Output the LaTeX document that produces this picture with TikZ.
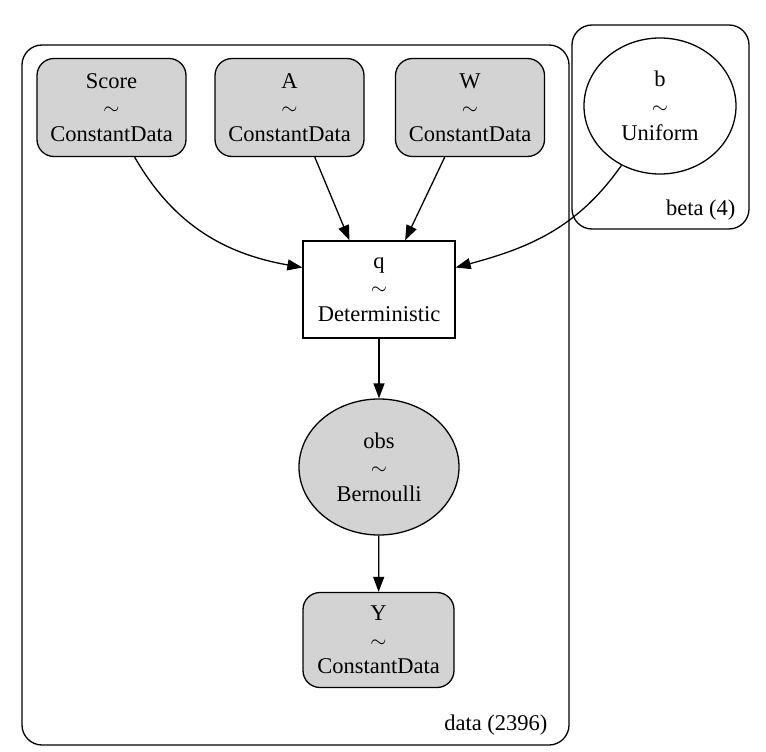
\documentclass[tikz,border=0pt]{standalone}
\usepackage{fontspec}
\setmainfont{Liberation Serif}
\usetikzlibrary{arrows.meta,shapes.geometric}
\definecolor{nodegray}{HTML}{D3D3D3}
\begin{document}
\begin{tikzpicture}[x=1pt,y=-1pt,line width=1.3pt,
        every node/.style={font=\rmfamily\fontsize{22.5}{26.7}\selectfont, align=center, inner sep=0pt},
        datanode/.style={draw, fill=nodegray, rounded corners=17pt, minimum width=149pt, minimum height=98pt},
        detnode/.style={draw, rectangle, minimum width=152pt, minimum height=97pt},
        rvnode/.style={draw, ellipse, minimum width=152pt, minimum height=136pt},
        plate/.style={rounded corners=20pt},
        edge/.style={-{Triangle[length=15pt,width=11pt]}}]
    \useasboundingbox (0,0) rectangle (766,752);
    % plates
    \draw[plate] (22,45) rectangle (569,745);
    \draw[plate] (572,25) rectangle (749,229);
    \node[anchor=base east] (datalabel) at (548,730) {data (2396)};
    \node[anchor=base east] (betalabel) at (736,215) {beta (4)};
    % observed inputs, one per column
    \foreach \name/\x/\label in {score/111.5/Score, a/289.5/A, w/470/W} {
        \node[datanode] (\name) at (\x,107.5) {\label\\$\sim$\\ConstantData};
    }
    \node[rvnode, fill=white] (b) at (660,106) {b\\$\sim$\\Uniform};
    \node[detnode] (q) at (379,289.5) {q\\$\sim$\\Deterministic};
    \node[rvnode, fill=nodegray, minimum width=160pt] (obs) at (379,467) {obs\\$\sim$\\Bernoulli};
    \node[datanode, minimum width=151pt, minimum height=95pt] (y) at (378.5,640) {Y\\$\sim$\\ConstantData};
    % edges
    \draw[edge] (score.-65) to[out=-60, in=170] (q.164);
    \draw[edge] (a.-63) -- (q.121);
    \draw[edge] (w.-117) -- (q.62);
    \draw[edge] (b.-123) to[out=-125, in=15] (q.16);
    \draw[edge] (q) -- (obs);
    \draw[edge] (obs) -- (y);
\end{tikzpicture}
\end{document}
